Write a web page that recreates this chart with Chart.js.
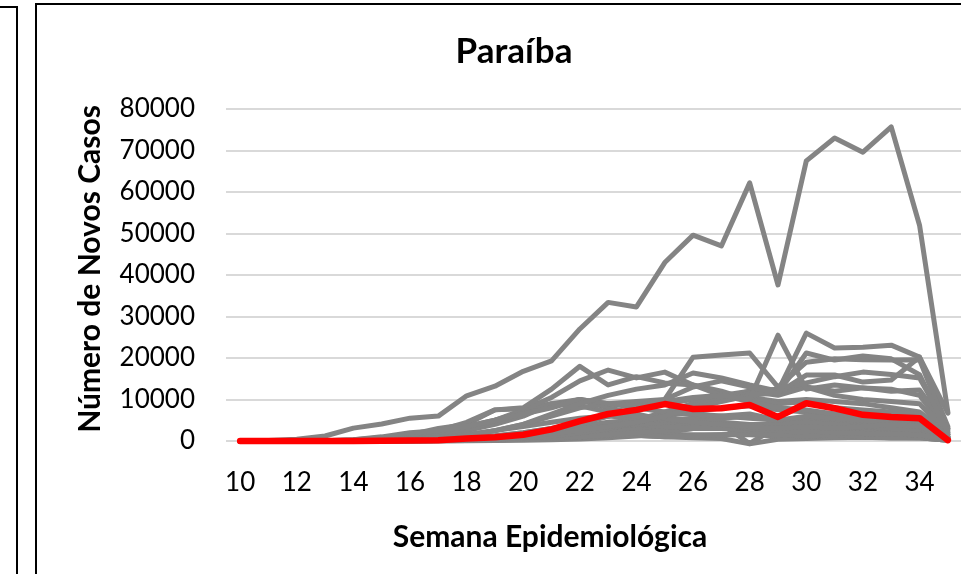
<!DOCTYPE html>
<html>
<head>
<meta charset="utf-8">
<script src="https://cdn.jsdelivr.net/npm/chart.js@4"></script>
<style>
  html, body { margin: 0; padding: 0; background: #fff; overflow: hidden; }
  body { width: 961px; height: 574px; position: relative; }
  .frame-left { position: absolute; left: -10px; top: 6px; width: 24px; height: 600px; border: 2px solid #000; }
  .frame-main { position: absolute; left: 35px; top: 3px; width: 1000px; height: 600px; border: 2px solid #000; }
  #chart { position: absolute; left: 0; top: 0; }
</style>
</head>
<body>
<div class="frame-left"></div>
<div class="frame-main"></div>
<canvas id="chart" width="1000" height="574"></canvas>
<script>
// Semanas epidemiológicas 10..35
const weeks = [10, 11, 12, 13, 14, 15, 16, 17, 18, 19, 20, 21, 22, 23, 24, 25, 26, 27, 28, 29, 30, 31, 32, 33, 34, 35];

// Paraíba (linha vermelha)
const paraiba = [0, 0, 5, 10, 30, 60, 100, 200, 600, 900, 1500, 2800, 4800, 6500, 7500, 8900, 7700, 7900, 8700, 5800, 9100, 7900, 6300, 5800, 5500, 200];

// demais estados (linhas cinzas)
const g01 = [0, 100, 400, 1200, 3100, 4100, 5500, 6000, 10900, 13200, 16800, 19300, 27000, 33400, 32300, 43000, 49600, 47000, 62200, 37600, 67500, 73000, 69600, 75700, 52000, 7000];
const g02 = [0, 0, 0, 0, 50, 100, 200, 300, 500, 800, 1500, 2500, 4000, 6000, 8000, 10000, 13000, 14500, 13000, 11500, 21200, 19500, 20500, 19800, 16000, 2000];
const g03 = [0, 0, 0, 0, 30, 100, 300, 700, 1200, 2500, 4000, 6500, 9000, 11000, 12500, 13500, 16400, 15200, 13500, 12000, 26000, 22400, 22600, 23100, 20200, 6700];
const g04 = [0, 0, 0, 50, 300, 1000, 2000, 2500, 3500, 5000, 6500, 8000, 10000, 9000, 8500, 9500, 10500, 11000, 10000, 25500, 12500, 13500, 12800, 12000, 12300, 3000];
const g05 = [0, 0, 0, 0, 50, 200, 500, 900, 1500, 2500, 4000, 6000, 8000, 9000, 9500, 10000, 20200, 20700, 21200, 13000, 19000, 19800, 19600, 19500, 19600, 2500];
const g06 = [0, 0, 0, 20, 80, 150, 250, 400, 600, 900, 1200, 1800, 2500, 3500, 4500, 6000, 8000, 9500, 11000, 11600, 15900, 15900, 14200, 14700, 20200, 3500];
const g07 = [0, 0, 0, 50, 300, 800, 1500, 2500, 4500, 7500, 8000, 12500, 18000, 13500, 15500, 14000, 13500, 11000, 9500, 8000, 7500, 6500, 6000, 5500, 5000, 900];
const g08 = [0, 0, 0, 0, 100, 300, 800, 1500, 2500, 5000, 7500, 10500, 14500, 17100, 15200, 16600, 13500, 12000, 9900, 9000, 9500, 8000, 7500, 7000, 6500, 1500];
const g09 = [0, 0, 0, 0, 100, 500, 1500, 3000, 4000, 7500, 7800, 9000, 8500, 7000, 6000, 5500, 4500, 4000, 3500, 3000, 3500, 3000, 3500, 4000, 3500, 800];
const g10 = [0, 0, 0, 50, 200, 600, 1500, 2500, 3500, 5000, 7000, 8500, 10000, 9000, 8000, 7000, 6500, 6000, 5500, 5000, 6000, 5500, 5000, 4500, 5000, 1000];
const g11 = [0, 0, 0, 0, 50, 200, 600, 1200, 2500, 4000, 6000, 9000, 10000, 8000, 6500, 5000, 5000, 4500, 4000, 4000, 4500, 4000, 3500, 3000, 3000, 600];
const g12 = [0, 0, 0, 0, 30, 60, 100, 200, 300, 500, 800, 1200, 2000, 3000, 4500, 6000, 8500, 10000, 11500, 12500, 14000, 15500, 16600, 16000, 15200, 3000];
const g13 = [0, 0, 0, 10, 50, 100, 200, 300, 500, 700, 1000, 1500, 2200, 3500, 5000, 7000, 9000, 10500, 12000, 11000, 13000, 12000, 12800, 12500, 11000, 2000];
const g14 = [0, 0, 0, 20, 60, 150, 200, 300, 400, 600, 900, 1300, 2000, 3000, 4500, 6500, 9000, 10000, 10500, 9500, 10000, 9500, 9000, 8000, 7000, 1500];
const g15 = [0, 0, 0, 50, 200, 300, 400, 500, 800, 1200, 2000, 3000, 4500, 6000, 7500, 9000, 10000, 11000, 12000, 12500, 13000, 11000, 10000, 9500, 9000, 1500];
const g16 = [0, 0, 0, 0, 50, 150, 400, 800, 1500, 2500, 3500, 4500, 5500, 6000, 5500, 5000, 5500, 6000, 6500, 5000, 5500, 5000, 5000, 5500, 5000, 800];
const g17 = [0, 0, 0, 0, 10, 30, 50, 100, 200, 400, 700, 1200, 2000, 3000, 4500, 6000, 7000, 8000, 8500, 7500, 7000, 6500, 6000, 5500, 5000, 900];
const g18 = [0, 0, 0, 0, 10, 40, 100, 200, 500, 900, 1500, 2500, 3000, 3500, 4000, 4500, 5000, 5500, 6000, 5000, 5500, 5000, 4500, 4500, 4000, 700];
const g19 = [0, 0, 0, 0, 30, 80, 150, 300, 600, 1000, 1800, 2500, 3500, 4500, 5000, 5500, 4500, 4000, 3000, 2500, 2500, 2000, 1800, 1700, 1500, 300];
const g20 = [0, 0, 0, 0, 10, 40, 100, 300, 600, 1200, 2000, 3000, 3500, 3500, 4000, 3500, 3000, 3000, 2500, 2500, 2000, 2000, 1800, 1600, 1500, 300];
const g21 = [0, 0, 0, 0, 10, 20, 50, 100, 300, 500, 1000, 1500, 2500, 3500, 4000, 4500, 4000, 3500, 3500, 3000, 2500, 2500, 2000, 1800, 2000, 300];
const g22 = [0, 0, 0, 0, 5, 10, 20, 50, 100, 200, 400, 700, 1000, 1500, 2000, 2500, 3000, 3200, 3500, 3000, 3200, 3000, 2800, 2500, 2500, 400];
const g23 = [0, 0, 0, 0, 5, 20, 50, 100, 200, 400, 800, 1200, 1800, 2500, 3000, 3000, 3500, 3500, 3000, 3000, 3200, 3000, 2500, 2500, 2200, 300];
const g24 = [0, 0, 0, 0, 20, 50, 150, 400, 800, 1200, 1500, 2000, 2000, 1500, 1300, 1000, 1200, 1500, 1800, 1500, 1200, 1500, 1000, 800, 800, 200];
const g25 = [0, 0, 0, 0, 10, 20, 50, 100, 200, 400, 600, 900, 1000, 1200, 1500, 1500, 1500, 1500, 1500, 1200, 1200, 1000, 1000, 900, 800, 200];
const g26 = [0, 0, 0, 0, 10, 20, 40, 80, 150, 300, 600, 800, 1000, 1300, 1400, 1000, 800, 600, -700, 400, 600, 800, 900, 700, 800, 150];
const g27 = [0, 0, 0, 0, 10, 20, 30, 50, 80, 100, 200, 300, 500, 800, 1200, 2000, 3000, 4000, -600, 3500, 4000, 4500, 4000, 3500, 3000, 500];

const others = [g01, g02, g03, g04, g05, g06, g07, g08, g09, g10, g11, g12, g13, g14,
  g15, g16, g17, g18, g19, g20, g21, g22, g23, g24, g25, g26, g27];

const yTicks = [0, 10000, 20000, 30000, 40000, 50000, 60000, 70000, 80000];

const titleText = "Paraíba";
const xTitleText = "Semana Epidemiológica";
const yTitleText = "Número de Novos Casos";

const fontStack = "Lato, 'Open Sans', sans-serif";
Chart.defaults.font.family = fontStack;
Chart.defaults.color = "#000";

// Titles are placed where the spreadsheet put them, which is not centred on
// the plot area, so they are drawn by hand after the chart.
const fixedTitles = {
  id: "fixedTitles",
  afterDraw(chart) {
    const ctx = chart.ctx;
    ctx.save();
    ctx.fillStyle = "#000";
    ctx.textAlign = "center";
    ctx.textBaseline = "middle";
    ctx.font = "bold 35px " + fontStack;
    ctx.fillText(titleText, 514, 52);
    ctx.font = "bold 30px " + fontStack;
    ctx.fillText(xTitleText, 550, 537);
    ctx.translate(90, 269);
    ctx.rotate(-Math.PI / 2);
    ctx.fillText(yTitleText, 0, 0);
    ctx.restore();
  },
};

const datasets = [
  {
    label: "Paraíba",
    data: paraiba,
    borderColor: "#ff0000",
    borderWidth: 6.5,
    order: 0,
  },
  ...others.map((d, i) => ({
    label: "estado " + (i + 1),
    data: d,
    borderColor: "#848484",
    borderWidth: 5,
    order: 1,
  })),
].map((ds) => ({
  ...ds,
  pointRadius: 0,
  tension: 0,
  fill: false,
  clip: false,
  borderJoinStyle: "round",
  borderCapStyle: "round",
}));

new Chart(document.getElementById("chart"), {
  type: "line",
  data: { labels: weeks, datasets: datasets },
  plugins: [fixedTitles],
  options: {
    responsive: false,
    animation: false,
    layout: { padding: { left: 36, top: 109, right: 38, bottom: 0 } },
    plugins: {
      legend: { display: false },
      tooltip: { enabled: false },
      title: { display: false },
    },
    scales: {
      x: {
        offset: true,
        grid: { display: false },
        border: { display: false },
        ticks: {
          autoSkip: false,
          maxRotation: 0,
          padding: 18,
          font: { size: 26 },
          callback: function (value, index) {
            return weeks[index] % 2 === 0 ? String(weeks[index]) : "";
          },
        },
        afterFit: (s) => { s.height = 133; },
      },
      y: {
        min: 0,
        max: 80000,
        afterBuildTicks: (s) => { s.ticks = yTicks.map((v) => ({ value: v })); },
        grid: { color: "#d9d9d9", lineWidth: 2, drawTicks: false },
        border: { display: false },
        ticks: {
          padding: 31,
          font: { size: 26 },
          callback: (v) => String(v),
        },
        afterFit: (s) => { s.width = 190; },
      },
    },
  },
});
</script>
</body>
</html>
